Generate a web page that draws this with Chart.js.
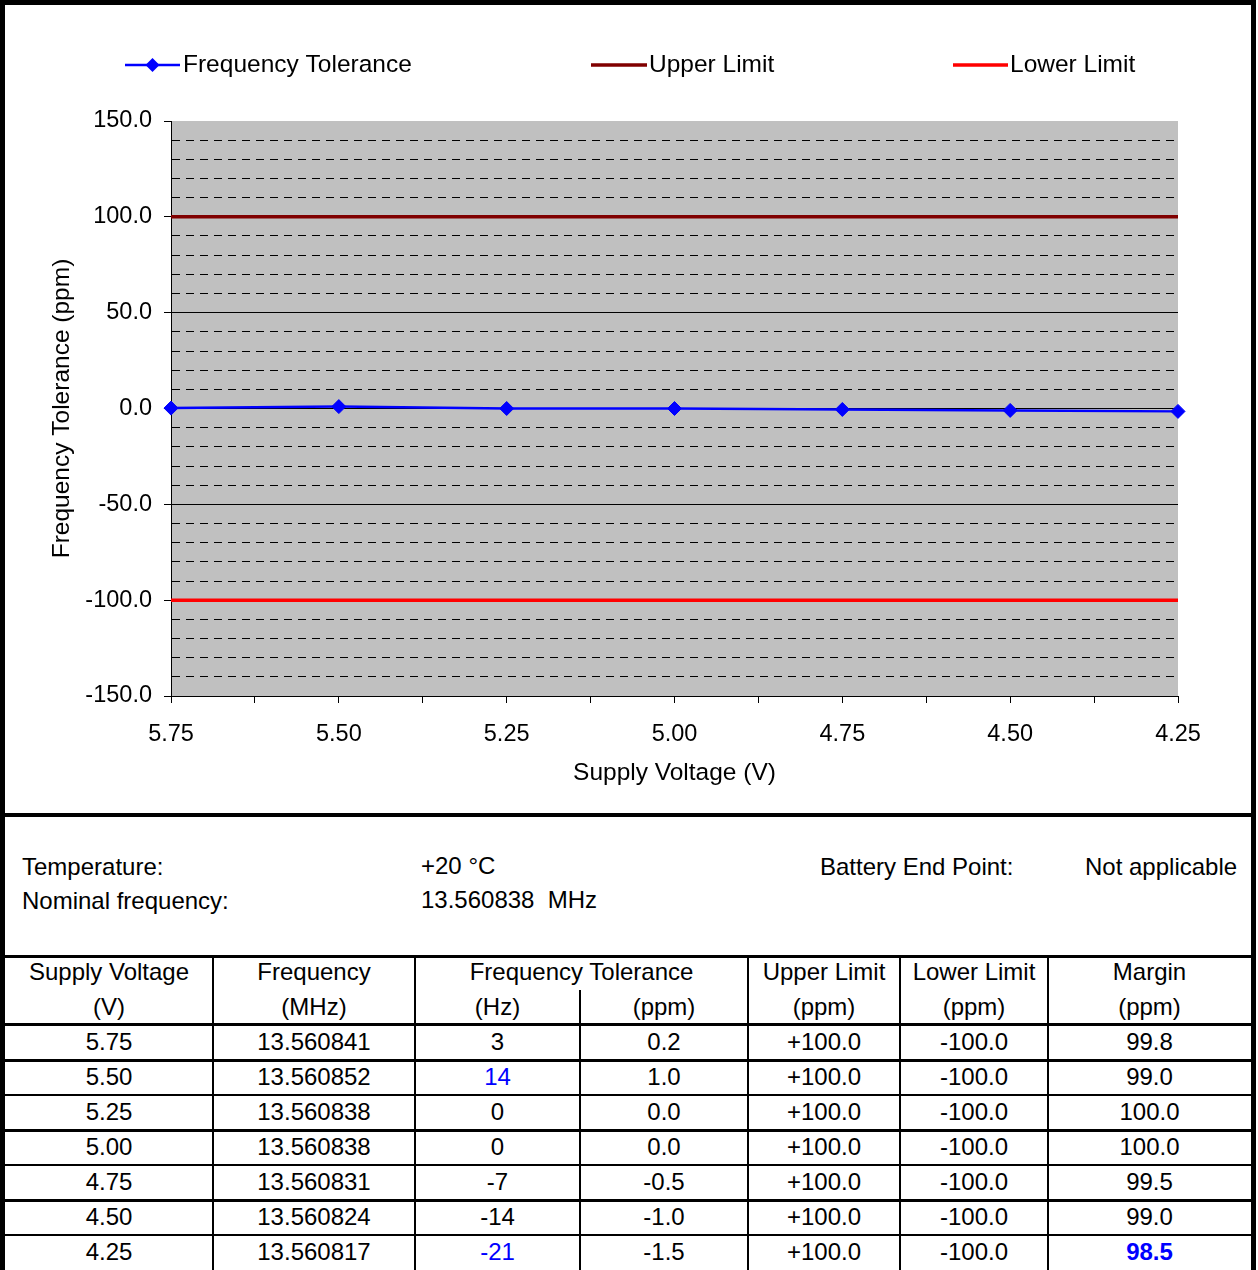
<!DOCTYPE html>
<html>
<head>
<meta charset="utf-8">
<script src="https://cdn.jsdelivr.net/npm/chart.js@4.4.1/dist/chart.umd.min.js"></script>
<style>
  html, body { margin: 0; padding: 0; background: #fff; }
  body { width: 1258px; height: 1270px; position: relative; overflow: hidden;
         font-family: "Liberation Sans", Arial, sans-serif; color: #000; }
  #chart { position: absolute; left: 0; top: 0; }
  .t { position: absolute; font-size: 24px; line-height: 30px; height: 30px; white-space: nowrap; }
  .cell { position: absolute; font-size: 24px; line-height: 30px; height: 30px; text-align: center; white-space: nowrap; }
  .ln { position: absolute; background: #000; }
</style>
</head>
<body>
<canvas id="chart" width="1258" height="815"></canvas>
<div id="lower"></div>
<script>
// ---------------- data ----------------
const voltages      = [5.75, 5.50, 5.25, 5.00, 4.75, 4.50, 4.25];
const voltageLabels = ['5.75', '5.50', '5.25', '5.00', '4.75', '4.50', '4.25'];
const frequencies   = ['13.560841', '13.560852', '13.560838', '13.560838', '13.560831', '13.560824', '13.560817'];
const toleranceHz   = [3, 14, 0, 0, -7, -14, -21];
const tolerancePpm  = [0.2, 1.0, 0.0, 0.0, -0.5, -1.0, -1.5];
const upperLimit    = [100, 100, 100, 100, 100, 100, 100];
const lowerLimit    = [-100, -100, -100, -100, -100, -100, -100];
const marginPpm     = [99.8, 99.0, 100.0, 100.0, 99.5, 99.0, 98.5];
const yTickValues   = [-150, -100, -50, 0, 50, 100, 150];
const yTickLabels   = ['-150.0', '-100.0', '-50.0', '0.0', '50.0', '100.0', '150.0'];
const seriesNames   = ['Frequency Tolerance', 'Upper Limit', 'Lower Limit'];
const infoLeft      = [['Temperature:', '+20 °C'], ['Nominal frequency:', '13.560838  MHz']];
const infoRight     = ['Battery End Point:', 'Not applicable'];

// ---------------- chart ----------------
const FONT = '"Liberation Sans", Arial, sans-serif';
const near = (a, b) => Math.abs(a - b) < 1e-6;
const majorIdx = v => yTickValues.findIndex(t => near(t, v));

const plotBg = {
  id: 'plotBg',
  beforeDraw(chart) {
    const { ctx, chartArea: a } = chart;
    ctx.save();
    ctx.fillStyle = '#C0C0C0';
    ctx.fillRect(a.left, a.top, a.right - a.left, a.bottom - a.top);
    ctx.restore();
  }
};

const legendPlugin = {
  id: 'customLegend',
  afterDraw(chart) {
    const ctx = chart.ctx;
    const y = 65;
    const items = [
      { x1: 125, x2: 180, tx: 183, marker: true },
      { x1: 591, x2: 647, tx: 649 },
      { x1: 953, x2: 1008, tx: 1010 }
    ];
    ctx.save();
    items.forEach((it, i) => {
      const ds = chart.data.datasets[i];
      ctx.strokeStyle = ds.borderColor;
      ctx.lineWidth = ds.borderWidth;
      ctx.beginPath();
      ctx.moveTo(it.x1, y);
      ctx.lineTo(it.x2, y);
      ctx.stroke();
      if (it.marker) {
        const cx = (it.x1 + it.x2) / 2, r = 7;
        ctx.fillStyle = ds.borderColor;
        ctx.beginPath();
        ctx.moveTo(cx, y - r); ctx.lineTo(cx + r, y); ctx.lineTo(cx, y + r); ctx.lineTo(cx - r, y);
        ctx.closePath();
        ctx.fill();
      }
      ctx.fillStyle = '#000';
      ctx.font = '24.5px ' + FONT;
      ctx.textBaseline = 'middle';
      ctx.textAlign = 'left';
      ctx.fillText(ds.label, it.tx, y);
    });
    ctx.restore();
  }
};

new Chart(document.getElementById('chart'), {
  type: 'line',
  data: {
    datasets: [
      {
        label: seriesNames[0],
        data: voltages.map((v, i) => ({ x: v, y: tolerancePpm[i] })),
        borderColor: '#0000FF', backgroundColor: '#0000FF',
        borderWidth: 2.5, pointStyle: 'rectRot', pointRadius: 7,
        pointBorderWidth: 1, pointBackgroundColor: '#0000FF', pointBorderColor: '#0000FF',
        tension: 0, clip: false
      },
      {
        label: seriesNames[1],
        data: voltages.map((v, i) => ({ x: v, y: upperLimit[i] })),
        borderColor: '#800000', backgroundColor: '#800000',
        borderWidth: 3.5, pointRadius: 0, tension: 0
      },
      {
        label: seriesNames[2],
        data: voltages.map((v, i) => ({ x: v, y: lowerLimit[i] })),
        borderColor: '#FF0000', backgroundColor: '#FF0000',
        borderWidth: 3.5, pointRadius: 0, tension: 0
      }
    ]
  },
  options: {
    responsive: false,
    animation: false,
    devicePixelRatio: 1,
    layout: { padding: { left: 0, right: 80, top: 121, bottom: 0 } },
    plugins: { legend: { display: false }, tooltip: { enabled: false } },
    scales: {
      x: {
        type: 'linear',
        reverse: true,
        min: voltages[voltages.length - 1],
        max: voltages[0],
        afterFit: s => { s.height = 119; },
        ticks: {
          stepSize: 0.125, maxTicksLimit: 30, autoSkip: false, maxRotation: 0,
          color: '#000', font: { family: FONT, size: 23.5 }, padding: 17,
          callback: v => { const i = voltages.findIndex(x => near(x, v)); return i >= 0 ? voltageLabels[i] : ''; }
        },
        grid: { drawOnChartArea: false, drawTicks: true, tickLength: 7, tickColor: '#000', color: '#000' },
        border: { display: true, color: '#000', width: 1 },
        title: { display: true, text: 'Supply Voltage (V)', color: '#000',
                 font: { family: FONT, size: 24.5 }, padding: { top: 0, bottom: 27 } }
      },
      y: {
        type: 'linear',
        min: yTickValues[0],
        max: yTickValues[yTickValues.length - 1],
        afterFit: s => { s.width = 171; },
        ticks: {
          stepSize: 10, maxTicksLimit: 40, autoSkip: false,
          color: '#000', font: { family: FONT, size: 23.5 }, padding: 12,
          callback: v => { const i = majorIdx(v); return i >= 0 ? yTickLabels[i] : ''; }
        },
        grid: {
          lineWidth: 1, tickLength: 7,
          color: c => {
            const v = c.tick ? c.tick.value : 0;
            if (near(v, yTickValues[yTickValues.length - 1])) return 'rgba(0,0,0,0)';
            return '#000';
          },
          tickColor: c => (c.tick && majorIdx(c.tick.value) >= 0) ? '#000' : 'rgba(0,0,0,0)'
        },
        border: {
          display: true, color: '#000', width: 1,
          dash: c => (c.tick && majorIdx(c.tick.value) < 0) ? [8, 6] : []
        },
        title: { display: true, text: 'Frequency Tolerance (ppm)', color: '#000',
                 font: { family: FONT, size: 24.5 }, padding: { top: 48, bottom: 0 } }
      }
    }
  },
  plugins: [plotBg, legendPlugin]
});

// ---------------- lower section (info + table) ----------------
const lower = document.getElementById('lower');
function el(cls, css, text) {
  const d = document.createElement('div');
  d.className = cls;
  Object.assign(d.style, css);
  if (text !== undefined) d.textContent = text;
  lower.appendChild(d);
  return d;
}
function line(x, y, w, h) { el('ln', { left: x + 'px', top: y + 'px', width: w + 'px', height: h + 'px' }); }

// outer frame + separator
line(0, 0, 1256, 5);
line(0, 0, 5, 1270);
line(1251, 0, 5, 1270);
line(0, 813, 1256, 4);

// info lines
const infoY = [867, 901];
infoLeft.forEach((pair, i) => {
  el('t', { left: '22px', top: (infoY[i] - 15) + 'px' }, pair[0]);
  el('t', { left: '421px', top: (infoY[i] - 16) + 'px', whiteSpace: 'pre' }, pair[1]);
});
el('t', { left: '820px', top: (infoY[0] - 15) + 'px' }, infoRight[0]);
el('t', { left: '1085px', top: (infoY[0] - 15) + 'px' }, infoRight[1]);

// table
const colX = [5, 213, 415, 580, 748, 900, 1048, 1251];
function cell(text, c0, c1, cy, extra) {
  const css = Object.assign({ left: colX[c0] + 'px', width: (colX[c1] - colX[c0]) + 'px', top: (cy - 15) + 'px' }, extra || {});
  el('cell', css, text);
}
const tableTop = 955, headLine = 1023, rowH = 35, firstCenter = 1042;
line(5, tableTop, 1246, 3);
line(5, headLine, 1246, 3);
for (let i = 0; i < voltages.length - 1; i++) {
  const y = firstCenter + rowH * i + 17;
  line(5, y, 1246, (i % 2 === 0) ? 3 : 2);
}
for (let c = 1; c < colX.length - 1; c++) {
  const top = c === 3 ? 990 : tableTop;
  line(colX[c] - 1, top, 2, 1270 - top);
}
const head1 = [['Supply Voltage', 0, 1], ['Frequency', 1, 2], ['Frequency Tolerance', 2, 4],
               ['Upper Limit', 4, 5], ['Lower Limit', 5, 6], ['Margin', 6, 7]];
const head2 = ['(V)', '(MHz)', '(Hz)', '(ppm)', '(ppm)', '(ppm)', '(ppm)'];
head1.forEach(h => cell(h[0], h[1], h[2], 972));
head2.forEach((h, c) => cell(h, c, c + 1, 1007));

const hzMax = Math.max(...toleranceHz), hzMin = Math.min(...toleranceHz);
const mMin = Math.min(...marginPpm);
const fmtSigned = v => (v > 0 ? '+' : '') + v.toFixed(1);
voltages.forEach((v, i) => {
  const cy = firstCenter + rowH * i;
  const hzStyle = (toleranceHz[i] === hzMax || toleranceHz[i] === hzMin) ? { color: '#0000FF' } : {};
  const mStyle = (marginPpm[i] === mMin) ? { color: '#0000FF', fontWeight: 'bold' } : {};
  cell(voltageLabels[i], 0, 1, cy);
  cell(frequencies[i], 1, 2, cy);
  cell(String(toleranceHz[i]), 2, 3, cy, hzStyle);
  cell(tolerancePpm[i].toFixed(1), 3, 4, cy);
  cell(fmtSigned(upperLimit[i]), 4, 5, cy);
  cell(fmtSigned(lowerLimit[i]), 5, 6, cy);
  cell(marginPpm[i].toFixed(1), 6, 7, cy, mStyle);
});
</script>
</body>
</html>
